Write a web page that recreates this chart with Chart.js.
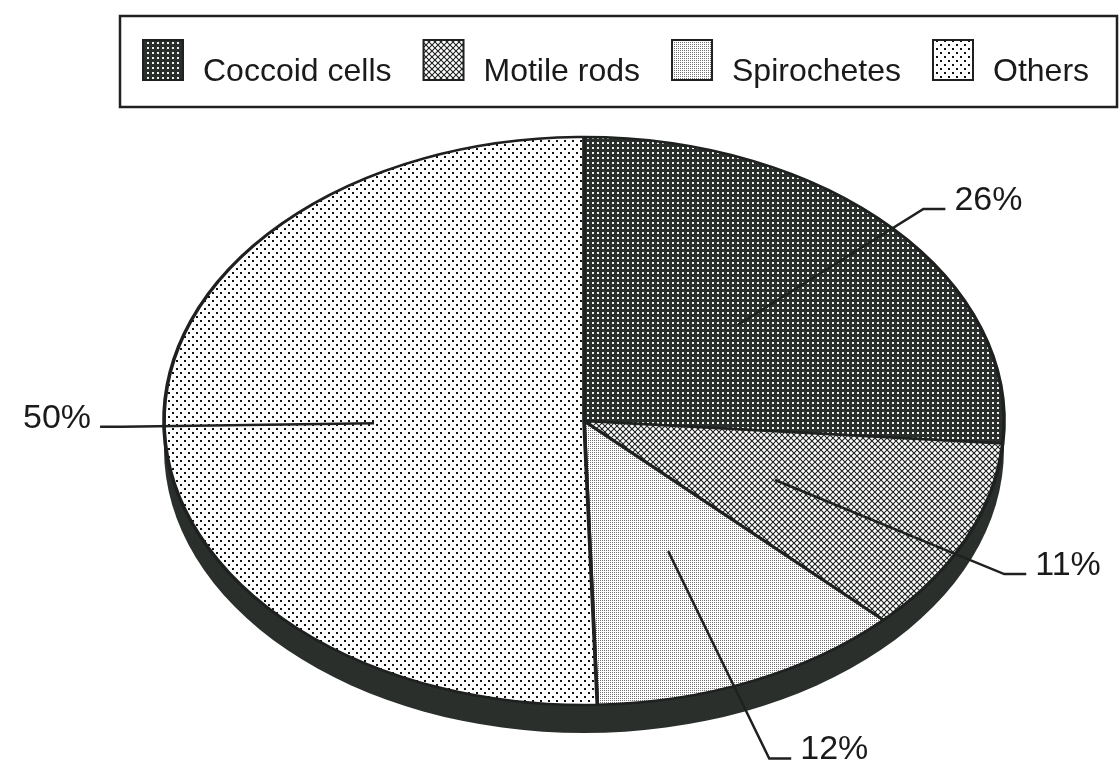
<!DOCTYPE html>
<html>
<head>
<meta charset="utf-8">
<title>Bacterial morphotypes</title>
<script src="https://cdn.jsdelivr.net/npm/chart.js@4/dist/chart.umd.min.js"></script>
<style>
  html, body { margin: 0; padding: 0; background: #ffffff; }
  #wrap { width: 1120px; height: 769px; position: relative; }
</style>
</head>
<body>
<div id="wrap"><canvas id="chart"></canvas></div>
<script>
// Share of each morphotype (percent)
const categories = ['Coccoid cells', 'Motile rods', 'Spirochetes', 'Others'];
const shares = [26, 11, 12, 50];

const INK = '#1e211f';
const SIDE = '#2a2f2c';
const FONT = '"Liberation Sans", Arial, sans-serif';
const STRETCH = 420 / 284;   // horizontal stretch turning the disc into an ellipse
const DEPTH = 28;            // thickness of the pie's rim

// --- fill patterns -------------------------------------------------------
function tile(size, paint) {
  const c = document.createElement('canvas');
  c.width = c.height = size;
  const g = c.getContext('2d');
  paint(g, size);
  return c;
}
const tiles = [
  // dark with white dots
  tile(5, (g, s) => { g.fillStyle = SIDE; g.fillRect(0, 0, s, s); g.fillStyle = '#f2f2f2'; g.fillRect(2, 2, 2, 2); }),
  // dark lattice with white diamonds
  tile(6, (g, s) => {
    g.fillStyle = INK; g.fillRect(0, 0, s, s);
    g.fillStyle = '#ffffff';
    const d = (x, y, r) => { g.beginPath(); g.moveTo(x - r, y); g.lineTo(x, y - r); g.lineTo(x + r, y); g.lineTo(x, y + r); g.closePath(); g.fill(); };
    [[0, 0], [6, 0], [0, 6], [6, 6], [3, 3]].forEach(p => d(p[0], p[1], 2.2));
  }),
  // light grey stipple
  tile(2, (g, s) => { g.fillStyle = '#ffffff'; g.fillRect(0, 0, s, s); g.fillStyle = '#707070'; g.fillRect(0, 0, 1, 1); }),
  // white with sparse black dots
  tile(8, (g, s) => { g.fillStyle = '#ffffff'; g.fillRect(0, 0, s, s); g.fillStyle = '#111111'; g.fillRect(0, 0, 2, 2); g.fillRect(4, 4, 2, 2); })
];
const scratch = document.createElement('canvas').getContext('2d');
const slicePatterns = tiles.map(t => {
  const p = scratch.createPattern(t, 'repeat');
  p.setTransform(new DOMMatrix([1 / STRETCH, 0, 0, 1, 0, 0]));
  return p;
});
const legendPatterns = tiles.map(t => scratch.createPattern(t, 'repeat'));

// --- plugins -------------------------------------------------------------
// Draws the rim and stretches the pie horizontally into an ellipse.
const ellipsePie = {
  id: 'ellipsePie',
  beforeDatasetsDraw(chart) {
    const arc = chart.getDatasetMeta(0).data[0];
    if (!arc) return;
    const { x: cx, y: cy, outerRadius: r } = arc;
    const ctx = chart.ctx;
    const rx = r * STRETCH;
    ctx.save();
    ctx.fillStyle = SIDE;
    ctx.beginPath();
    ctx.ellipse(cx, cy + DEPTH, rx, r, 0, 0, Math.PI * 2);
    ctx.fill();
    ctx.fillRect(cx - rx, cy, 2 * rx, DEPTH);
    ctx.restore();
    ctx.save();
    ctx.translate(cx, 0);
    ctx.scale(STRETCH, 1);
    ctx.translate(-cx, 0);
    ctx.imageSmoothingEnabled = false;
  },
  afterDatasetsDraw(chart) {
    chart.ctx.restore();
  }
};

// Leader lines and percentage labels.
const leaderLabels = {
  id: 'leaderLabels',
  afterDraw(chart) {
    const ctx = chart.ctx;
    const meta = chart.getDatasetMeta(0);
    ctx.save();
    ctx.strokeStyle = INK;
    ctx.lineWidth = 2.5;
    ctx.fillStyle = '#1a1a1a';
    ctx.font = '34px ' + FONT;
    ctx.textBaseline = 'alphabetic';
    meta.data.forEach((arc, i) => {
      const { x: cx, y: cy, outerRadius: r, startAngle, endAngle } = arc;
      const mid = (startAngle + endAngle) / 2;
      const ux = Math.cos(mid), uy = Math.sin(mid);
      const at = f => [cx + ux * r * STRETCH * f, cy + uy * r * f];
      const [x0, y0] = at(0.5);
      let [x1, y1] = at(1.1);
      y1 += 2 * DEPTH * Math.max(0, uy);
      const dir = ux >= 0 ? 1 : -1;
      const x2 = x1 + dir * 22;
      ctx.beginPath();
      ctx.moveTo(x0, y0);
      ctx.lineTo(x1, y1);
      ctx.lineTo(x2, y1);
      ctx.stroke();
      ctx.textAlign = dir > 0 ? 'left' : 'right';
      ctx.fillText(shares[i] + '%', x2 + dir * 9, y1 + 1);
    });
    ctx.restore();
  }
};

// Framed legend row above the pie.
const framedLegend = {
  id: 'framedLegend',
  afterDraw(chart) {
    const ctx = chart.ctx;
    const swatch = 40, gapText = 20, gapItem = 32;
    const top = 40, baseline = 81;
    ctx.save();
    ctx.font = '32px ' + FONT;
    ctx.textBaseline = 'alphabetic';
    ctx.textAlign = 'left';
    let x = 143;
    categories.forEach((label, i) => {
      ctx.fillStyle = legendPatterns[i];
      ctx.fillRect(x, top, swatch, swatch);
      ctx.strokeStyle = INK;
      ctx.lineWidth = 2;
      ctx.strokeRect(x, top, swatch, swatch);
      const tx = x + swatch + gapText;
      ctx.fillStyle = '#1a1a1a';
      ctx.fillText(label, tx, baseline);
      x = tx + ctx.measureText(label).width + gapItem;
    });
    ctx.strokeStyle = INK;
    ctx.lineWidth = 2.5;
    ctx.strokeRect(120, 16, 997, 91);
    ctx.restore();
  }
};

Chart.defaults.font.family = FONT;

new Chart(document.getElementById('chart'), {
  type: 'pie',
  data: {
    labels: categories,
    datasets: [{
      data: shares,
      backgroundColor: slicePatterns,
      borderColor: INK,
      borderWidth: 2.5,
      radius: 284,
      clip: false
    }]
  },
  options: {
    responsive: true,
    maintainAspectRatio: false,
    animation: false,
    events: [],
    layout: { padding: { top: 110, bottom: 37, left: 48, right: 0 } },
    plugins: {
      tooltip: { enabled: false },
      legend: { display: false }
    }
  },
  plugins: [ellipsePie, leaderLabels, framedLegend]
});
</script>
</body>
</html>
